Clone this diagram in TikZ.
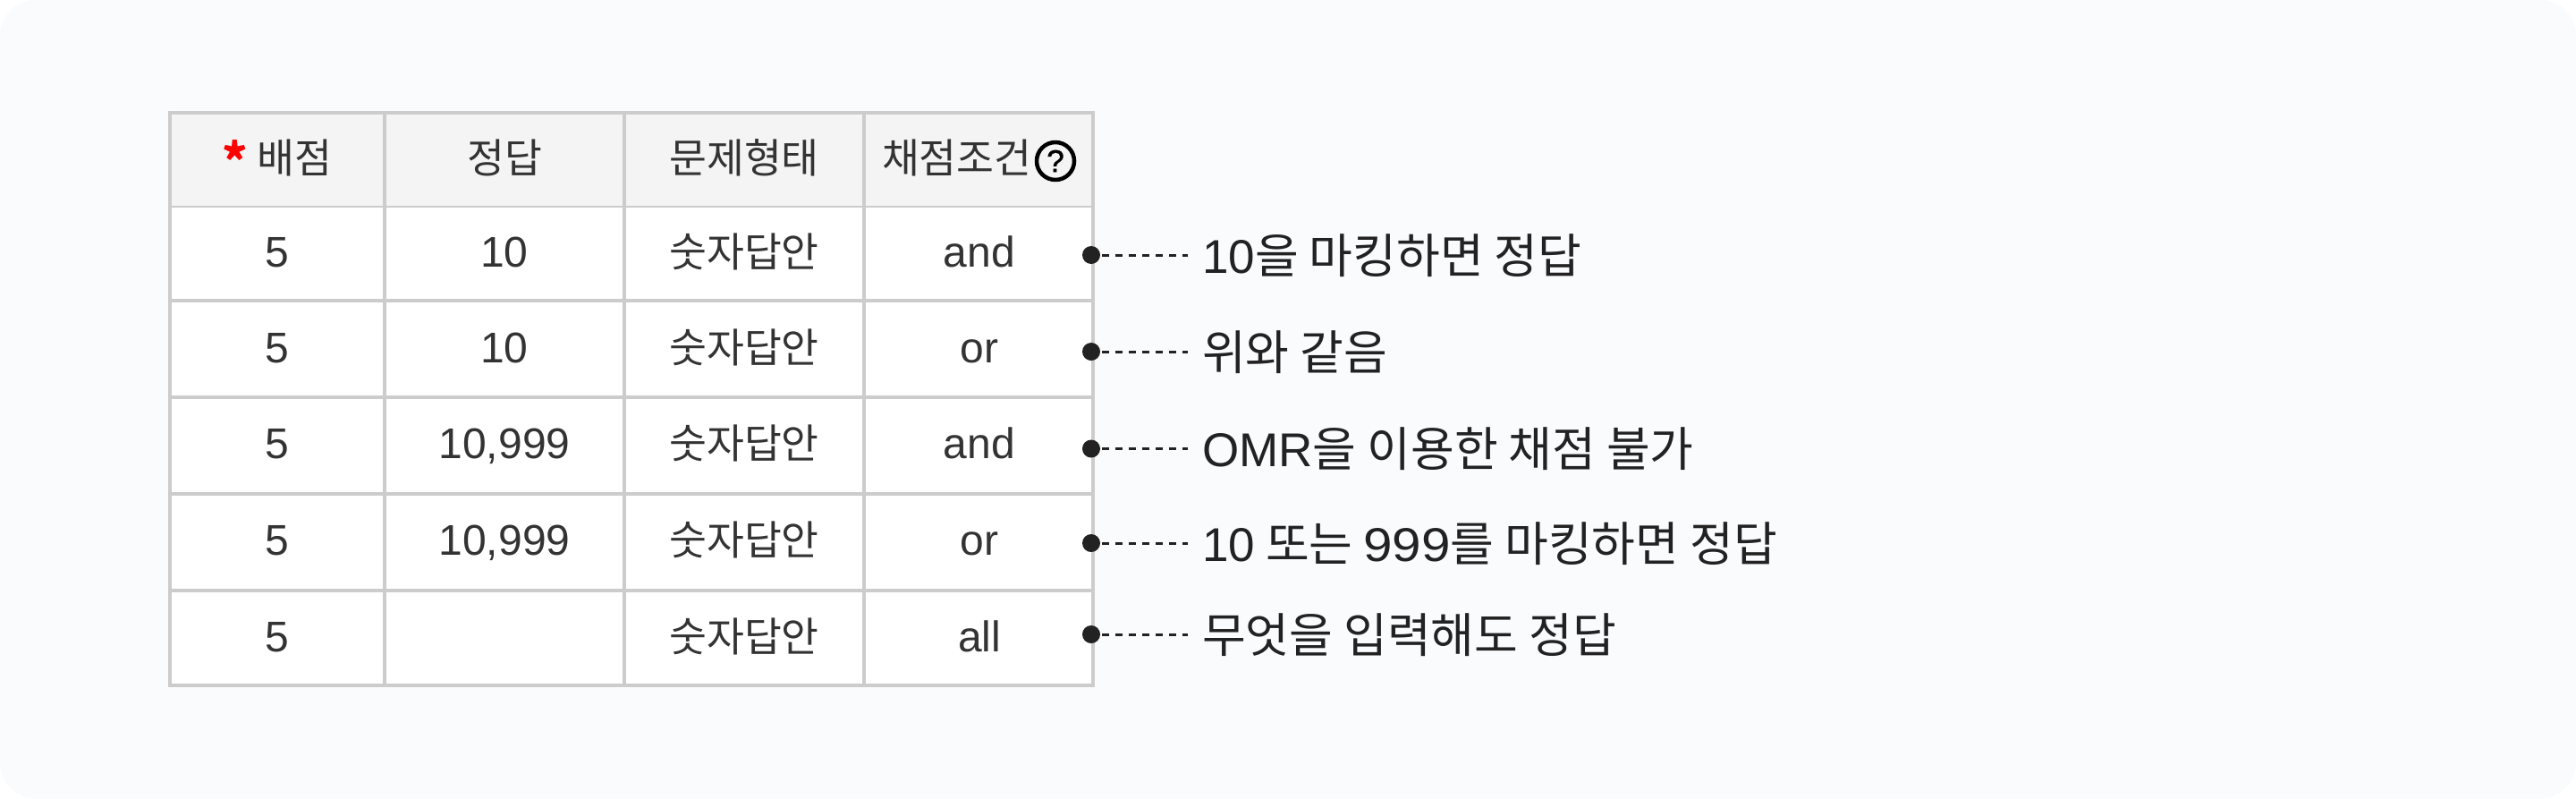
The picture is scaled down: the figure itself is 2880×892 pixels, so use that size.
\documentclass[tikz,border=0pt]{standalone}
\usepackage{fontspec}
\setmainfont{Noto Sans CJK KR}
\newfontfamily\latn{Liberation Sans}
\newfontfamily\numf[FakeStretch=1.1]{Liberation Sans}
\newfontfamily\helpf[FakeBold=1.2]{Liberation Sans}
\definecolor{panel}{HTML}{FAFBFD}
\definecolor{headfill}{HTML}{F4F4F4}
\definecolor{gridline}{HTML}{CCCCCC}
\definecolor{celltext}{HTML}{333333}
\definecolor{notetext}{HTML}{222222}
\newcommand{\cellnum}[1]{{\latn\fontsize{48}{50}\selectfont #1}}
\newcommand{\notelat}[1]{{\latn\fontsize{53}{60}\selectfont #1}}
\newcommand{\notewide}[1]{{\numf\fontsize{53}{60}\selectfont #1}}
\newcommand{\redstar}{\textcolor{red}{\raisebox{-7pt}{\fontsize{54}{50}\selectfont\bfseries *}}}
\tikzset{
  cellbox/.style={rectangle,inner sep=0pt,outer sep=0pt,fill=#1,text=celltext,align=center,
    text height=36pt,text depth=6pt,font=\fontsize{45.5}{50}\selectfont},
  headcell/.style={cellbox=headfill},
  bodycell/.style={cellbox=white},
  gridrule/.style={draw=gridline,line width=4pt},
  thinrule/.style={draw=gridline,line width=2.4pt},
  notedot/.style={circle,fill=notetext,inner sep=0pt,minimum size=20pt,outer sep=0pt},
  notelabel/.style={anchor=base west,inner xsep=16pt,inner ysep=0pt,text=notetext,font=\fontsize{53}{60}\selectfont},
  noteline/.style={draw=notetext,line width=3pt,dash pattern=on 8pt off 7pt,dash phase=13pt},
  helpicon/.style={circle,draw=black,line width=4.5pt,minimum size=42pt,inner sep=0pt,text=black,
    font=\helpf\fontsize{35}{35}\selectfont}
}
\begin{document}
\begin{tikzpicture}[x=1pt,y=-1pt]
\useasboundingbox (0,0) rectangle (2880,892);
\fill[white] (0,0) rectangle (2880,892);
\fill[panel,rounded corners=40pt] (0,0) rectangle (2880,892);
% header row
\node[headcell,minimum width=240pt,minimum height=105pt] (h1) at (310,178.5) {\redstar\ 배점};
\node[headcell,minimum width=268pt,minimum height=105pt] (h2) at (564,178.5) {정답};
\node[headcell,minimum width=268pt,minimum height=105pt] (h3) at (832,178.5) {문제형태};
\node[headcell,minimum width=256pt,minimum height=105pt,text width=216pt,align=left] (h4) at (1094,178.5) {채점조건};
% body rows
\foreach \r/\cy/\h/\ans/\cond in {1/283.5/105/10/and,2/390/108/10/or,3/497.75/107.5/{10,999}/and,4/605.75/108.5/{10,999}/or,5/713/106/{}/all}{
  \node[bodycell,minimum width=240pt,minimum height=\h pt] (a\r) at (310,\cy) {\cellnum{5}};
  \node[bodycell,minimum width=268pt,minimum height=\h pt] (b\r) at (564,\cy) {\cellnum{\ans}};
  \node[bodycell,minimum width=268pt,minimum height=\h pt] (c\r) at (832,\cy) {숫자답안};
  \node[bodycell,minimum width=256pt,minimum height=\h pt] (d\r) at (1095,\cy) {\cellnum{\cond}};
}
% grid
\draw[gridrule] (190,124) -- (190,768);
\draw[gridrule] (430,124) -- (430,768);
\draw[gridrule] (698,124) -- (698,768);
\draw[gridrule] (966,124) -- (966,768);
\draw[gridrule] (1222,124) -- (1222,768);
\draw[gridrule] (188,126) -- (1224,126);
\draw[thinrule] (188,231) -- (1224,231);
\draw[gridrule] (188,336) -- (1224,336);
\draw[gridrule] (188,444) -- (1224,444);
\draw[gridrule] (188,551.5) -- (1224,551.5);
\draw[gridrule] (188,660) -- (1224,660);
\draw[gridrule] (188,766) -- (1224,766);
% help icon
\node[helpicon] (help) at (1180,180) {?};
% annotations
\foreach \r/\y/\txt in {1/285/{\notelat{10}을 마킹하면 정답},2/393/{위와 같음},3/501.5/{\notelat{OMR}을 이용한 채점 불가},4/607/{\notelat{10} 또는 \notewide{999}를 마킹하면 정답},5/709/{무엇을 입력해도 정답}}{
  \node[notedot] (p\r) at (1220,\y) {};
  \node[notelabel] (l\r) at (1328,\y+20) {\txt};
  \draw[noteline] (p\r) -- (p\r -| l\r.west);
}
\end{tikzpicture}
\end{document}
